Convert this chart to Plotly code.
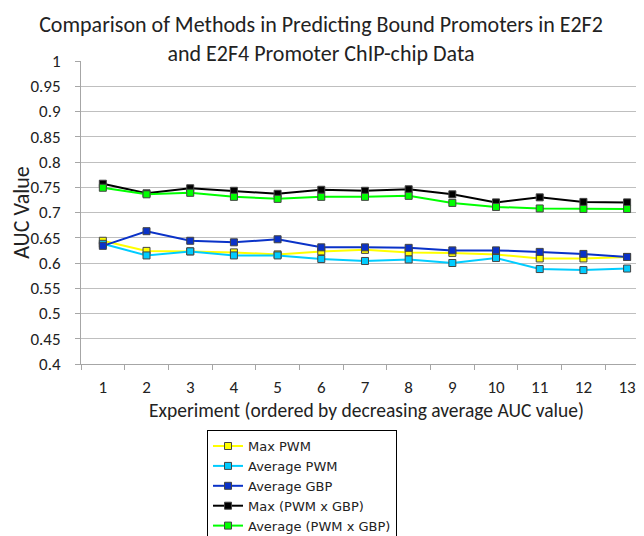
import plotly.graph_objects as go

experiments = list(range(1, 13 + 1))

max_pwm = [0.644, 0.624, 0.623, 0.621, 0.617, 0.623, 0.626, 0.621, 0.620, 0.617, 0.609, 0.609, 0.612]
avg_pwm = [0.638, 0.615, 0.623, 0.615, 0.615, 0.608, 0.604, 0.607, 0.600, 0.610, 0.588, 0.586, 0.589]
avg_gbp = [0.634, 0.663, 0.644, 0.641, 0.647, 0.631, 0.631, 0.630, 0.625, 0.625, 0.622, 0.618, 0.612]
max_pwm_gbp = [0.757, 0.738, 0.748, 0.743, 0.737, 0.745, 0.743, 0.746, 0.736, 0.720, 0.730, 0.721, 0.720]
avg_pwm_gbp = [0.749, 0.736, 0.739, 0.731, 0.727, 0.731, 0.731, 0.733, 0.719, 0.711, 0.708, 0.707, 0.707]

series = [
    ("Max PWM", max_pwm, "#ffff00"),
    ("Average PWM", avg_pwm, "#00ccff"),
    ("Average GBP", avg_gbp, "#0a32c8"),
    ("Max (PWM x GBP)", max_pwm_gbp, "#000000"),
    ("Average (PWM x GBP)", avg_pwm_gbp, "#00ff00"),
]

font = "Calibri, Carlito, Lato, sans-serif"

fig = go.Figure()
for name, vals, color in series:
    fig.add_trace(go.Scatter(
        x=experiments, y=vals, name=name, mode="lines+markers",
        line=dict(color=color, width=2),
        marker=dict(symbol="square", size=7, color=color,
                    line=dict(color="#444444", width=1)),
    ))

# page has an 8px body margin, so everything is shifted up/left by 8px
fig.update_layout(
    width=644, height=536,
    margin=dict(l=73, r=0, t=53, b=180, autoexpand=False),
    paper_bgcolor="white", plot_bgcolor="white",
    font=dict(family=font, color="#222222"),
    title=dict(
        text="Comparison of Methods in Predicting Bound Promoters in E2F2<br>and E2F4 Promoter ChIP-chip Data",
        x=313 / 644, xref="container", xanchor="center", yref="container",
        y=1 - 24 / 536, yanchor="middle",
        font=dict(size=22, family=font, color="#222222"),
    ),
    xaxis=dict(
        range=[0.5, 13.57], tickvals=experiments, ticks="",
        showgrid=False, zeroline=False, automargin=False,
        showline=True, linecolor="#a6a6a6", linewidth=1,
        tickfont=dict(size=17), ticklabelstandoff=8,
        minor=dict(ticks="outside", tick0=0.5, dtick=1, ticklen=5,
                   tickcolor="#a6a6a6", showgrid=False),
        title=dict(text="Experiment (ordered by decreasing average AUC value)",
                   font=dict(size=19.5), standoff=4),
    ),
    yaxis=dict(
        range=[0.4, 1.0], dtick=0.05, tickformat="~g",
        showgrid=True, gridcolor="#bfbfbf", gridwidth=1, zeroline=False,
        automargin=False,
        showline=True, linecolor="#a6a6a6", linewidth=1,
        ticks="outside", ticklen=5, tickcolor="#a6a6a6",
        tickfont=dict(size=17), ticklabelstandoff=11,
        title=dict(text="AUC Value", font=dict(size=22), standoff=0),
    ),
    legend=dict(
        x=0.2207, y=-0.218, xanchor="left", yanchor="top",
        bordercolor="#000000", borderwidth=1, bgcolor="white",
        font=dict(size=13, family="DejaVu Sans"), tracegroupgap=0, itemwidth=30,
    ),
)

fig.write_html("out.html")
